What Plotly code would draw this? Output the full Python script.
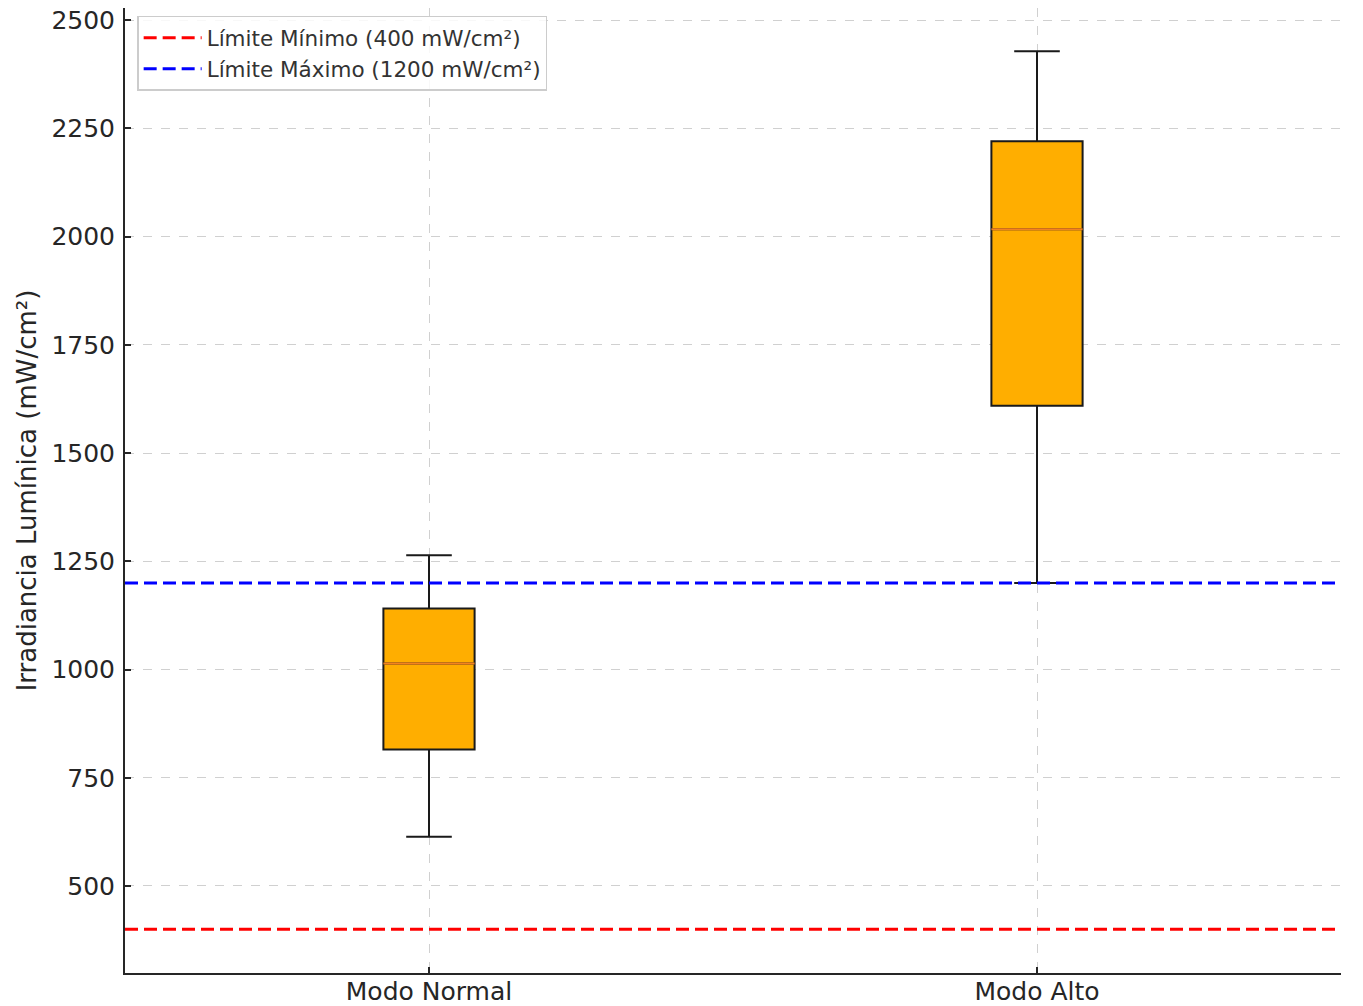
import plotly.graph_objects as go

# ---- data ----
categories = ["Modo Normal", "Modo Alto"]
positions = [1, 2]
lower_whisker = [614, 1200]
q1_vals = [815, 1609]
medians = [1014, 2017]
q3_vals = [1141, 2220]
upper_whisker = [1264, 2428]

limit_names = ["Límite Mínimo (400 mW/cm²)", "Límite Máximo (1200 mW/cm²)"]
limit_values = [400, 1200]
limit_colors = ["#FF0000", "#0000FF"]

y_ticks = [500, 750, 1000, 1250, 1500, 1750, 2000, 2250, 2500]

BOX_W = 0.15
X_RANGE = [0.5, 2.5]
FONT = "DejaVu Sans"

fig = go.Figure()

# horizontal limit lines
for name, val, col in zip(limit_names, limit_values, limit_colors):
    fig.add_trace(go.Scatter(
        x=X_RANGE, y=[val, val], mode="lines", name=name,
        line=dict(color=col, width=3, dash="13px,6px"),
        showlegend=True,
    ))

# boxes
for cat, pos, lw, q1, md, q3, uw in zip(categories, positions, lower_whisker,
                                        q1_vals, medians, q3_vals, upper_whisker):
    fig.add_trace(go.Box(
        x=[pos], q1=[q1], median=[md], q3=[q3],
        lowerfence=[lw], upperfence=[uw],
        width=BOX_W, whiskerwidth=0.5,
        fillcolor="#FFAE00",
        line=dict(color="#1a1a1a", width=2),
        boxpoints=False, showlegend=False, name=cat,
    ))
    fig.add_trace(go.Scatter(
        x=[pos - BOX_W / 2, pos + BOX_W / 2], y=[md, md], mode="lines",
        line=dict(color="#F5821F", width=2), showlegend=False,
    ))

fig.update_layout(
    width=1355, height=998,
    margin=dict(l=117, r=22, t=0, b=33, autoexpand=False),
    paper_bgcolor="white", plot_bgcolor="white",
    font=dict(family=FONT, color="#262626", size=25),
    legend=dict(
        x=0.010, y=0.992, xanchor="left", yanchor="top",
        bgcolor="rgba(255,255,255,0.85)", bordercolor="#CCCCCC", borderwidth=1.5,
        font=dict(size=21.5, family=FONT, color="#333333"),
        tracegroupgap=0, itemwidth=58,
    ),
    showlegend=True,
)

fig.update_xaxes(
    range=X_RANGE, tickvals=positions, ticktext=categories,
    showgrid=True, gridcolor="#D0D0D0", griddash="dash", gridwidth=1,
    showline=True, linecolor="#262626", linewidth=2,
    ticks="inside", ticklen=6, tickwidth=1.5, tickcolor="#262626",
    tickfont=dict(size=25), zeroline=False, automargin=False,
    ticklabelstandoff=-5, ticklabeloverflow="allow",
)
fig.update_yaxes(
    range=[299, 2528], tickvals=y_ticks,
    showgrid=True, gridcolor="#D0D0D0", griddash="dash", gridwidth=1,
    showline=True, linecolor="#262626", linewidth=2,
    ticks="inside", ticklen=6, tickwidth=1.5, tickcolor="#262626",
    tickfont=dict(size=25), zeroline=False, automargin=False,
    ticklabelstandoff=3, ticklabeloverflow="allow",
    title=dict(text="Irradiancia Lumínica (mW/cm²)", font=dict(size=26), standoff=7),
)

fig.write_html("out.html")
